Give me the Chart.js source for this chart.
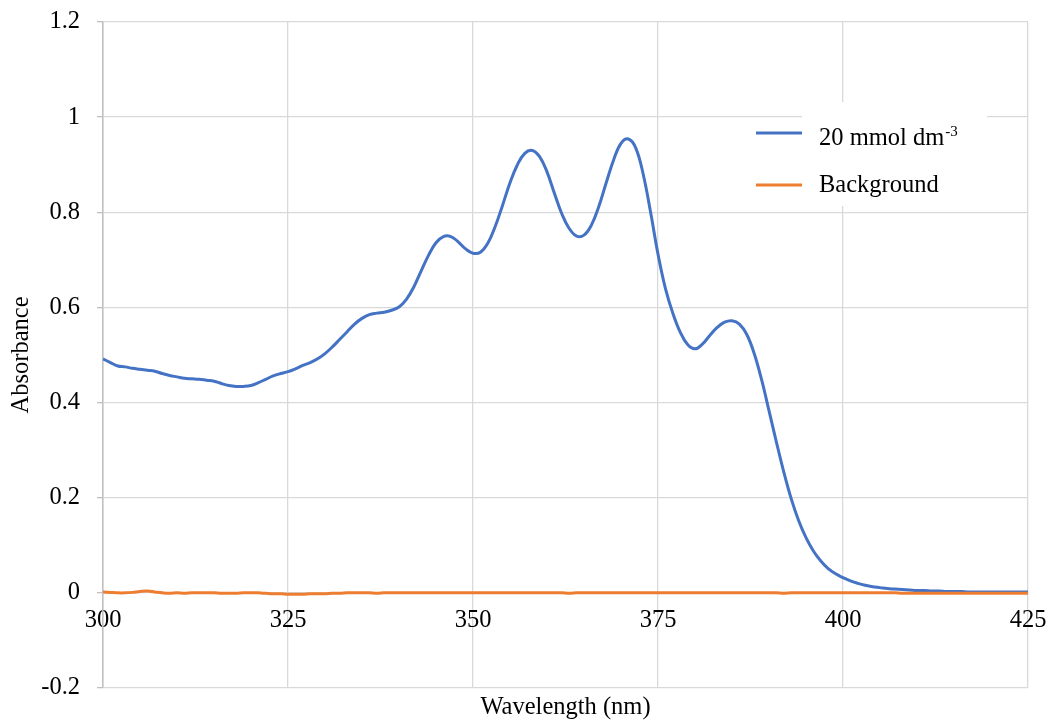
<!DOCTYPE html>
<html>
<head>
<meta charset="utf-8">
<title>Absorbance spectrum</title>
<script src="https://cdn.jsdelivr.net/npm/chart.js@4.4.1/dist/chart.umd.min.js"></script>
<style>
  html, body { margin: 0; padding: 0; background: #ffffff; }
  #wrap { width: 1051px; height: 722px; }
</style>
</head>
<body>
<div id="wrap"><canvas id="spectrum" width="1051" height="722"></canvas></div>
<script>
// Wavelength grid (nm)
const wavelengths = [
  300,301,302,303,304,305,306,307,308,309,310,311,312,313,314,315,316,317,318,319,
  320,321,322,323,324,325,326,327,328,329,330,331,332,333,334,335,336,337,338,339,
  340,341,342,343,344,345,346,347,348,349,350,351,352,353,354,355,356,357,358,359,
  360,361,362,363,364,365,366,367,368,369,370,371,372,373,374,375,376,377,378,379,
  380,381,382,383,384,385,386,387,388,389,390,391,392,393,394,395,396,397,398,399,
  400,401,402,403,404,405,406,407,408,409,410,411,412,413,414,415,416,417,418,419,
  420,421,422,423,424,425
];

// Absorbance of the 20 mmol dm-3 solution
const sample20 = [
  0.492,0.484,0.477,0.475,0.472,0.470,0.468,0.466,0.461,0.457,
  0.454,0.451,0.450,0.449,0.447,0.445,0.440,0.436,0.434,0.434,
  0.436,0.442,0.449,0.456,0.461,0.465,0.471,0.478,0.484,0.492,
  0.503,0.517,0.533,0.549,0.565,0.577,0.585,0.588,0.590,0.594,
  0.601,0.617,0.643,0.677,0.710,0.736,0.749,0.749,0.738,0.723,
  0.714,0.716,0.735,0.770,0.815,0.862,0.900,0.924,0.930,0.917,
  0.885,0.840,0.797,0.766,0.750,0.752,0.773,0.812,0.862,0.910,
  0.945,0.954,0.935,0.880,0.800,0.712,0.640,0.588,0.548,0.522,
  0.513,0.523,0.541,0.558,0.569,0.572,0.565,0.543,0.503,0.448,
  0.383,0.317,0.254,0.198,0.152,0.116,0.088,0.067,0.051,0.040,
  0.032,0.025,0.020,0.016,0.013,0.011,0.009,0.008,0.007,0.006,
  0.005,0.005,0.004,0.004,0.003,0.003,0.003,0.002,0.002,0.002,
  0.002,0.002,0.002,0.002,0.002,0.002
];

// Background (solvent) absorbance
const background = [
  0.002,0.001,0.000,0.000,0.001,0.003,0.004,0.002,0.000,-0.001,
  0.000,-0.001,0.000,0.000,0.000,0.000,-0.001,-0.001,-0.001,0.000,
  0.000,0.000,-0.001,-0.002,-0.002,-0.003,-0.003,-0.003,-0.002,-0.002,
  -0.002,-0.001,-0.001,0.000,0.000,0.000,0.000,-0.001,0.000,0.000,
  0.000,0.000,0.000,0.000,0.000,0.000,0.000,0.000,0.000,0.000,
  0.000,0.000,0.000,0.000,0.000,0.000,0.000,0.000,0.000,0.000,
  0.000,0.000,0.000,-0.001,0.000,0.000,0.000,0.000,0.000,0.000,
  0.000,0.000,0.000,0.000,0.000,0.000,0.000,0.000,0.000,0.000,
  0.000,0.000,0.000,0.000,0.000,0.000,0.000,0.000,0.000,0.000,
  0.000,0.000,-0.001,0.000,0.000,0.000,0.000,0.000,0.000,0.000,
  0.000,0.000,0.000,0.000,0.000,0.000,0.000,0.000,-0.001,-0.001,
  -0.001,-0.001,-0.001,-0.001,-0.001,-0.001,-0.001,-0.001,-0.001,-0.001,
  -0.001,-0.001,-0.001,-0.001,-0.001,-0.001
];

const xTicks = [300, 325, 350, 375, 400, 425];
const yTicks = [-0.2, 0, 0.2, 0.4, 0.6, 0.8, 1.0, 1.2];

const seriesNames = ['20 mmol dm', 'Background'];
const seriesSuperscripts = ['-3', ''];
const seriesColors = ['#4472C4', '#ED7D31'];

const xTitle = 'Wavelength (nm)';
const yTitle = 'Absorbance';

const FONT_FAMILY = "'Liberation Serif', 'Times New Roman', serif";
const FONT_SIZE = 24.5;
const TEXT_COLOR = '#000000';
const GRID_COLOR = '#d9d9d9';
const AXIS_COLOR = '#bfbfbf';

function toPoints(ys) {
  return wavelengths.map((x, i) => ({ x: x, y: ys[i] }));
}

function zeroPadding(scale) {
  scale.paddingLeft = 0;
  scale.paddingRight = 0;
  scale.paddingTop = 0;
  scale.paddingBottom = 0;
}

// Legend drawn inside the plot area on a white panel
const legendPanel = {
  id: 'legendPanel',
  beforeDatasetsDraw(chart) {
    const ctx = chart.ctx;
    ctx.save();
    ctx.fillStyle = '#ffffff';
    ctx.fillRect(802, 102, 185, 104);
    ctx.restore();
  },
  afterDatasetsDraw(chart) {
    const ctx = chart.ctx;
    const rows = [
      { lineY: 133, baseY: 145 },
      { lineY: 185, baseY: 192 }
    ];
    ctx.save();
    rows.forEach((row, i) => {
      ctx.strokeStyle = seriesColors[i];
      ctx.lineWidth = 3;
      ctx.beginPath();
      ctx.moveTo(756, row.lineY);
      ctx.lineTo(802, row.lineY);
      ctx.stroke();

      ctx.fillStyle = TEXT_COLOR;
      ctx.textAlign = 'left';
      ctx.textBaseline = 'alphabetic';
      ctx.font = FONT_SIZE + 'px ' + FONT_FAMILY;
      ctx.fillText(seriesNames[i], 819, row.baseY);
      if (seriesSuperscripts[i]) {
        const w = ctx.measureText(seriesNames[i]).width;
        ctx.font = '15px ' + FONT_FAMILY;
        ctx.fillText(seriesSuperscripts[i], 819 + w + 1, row.baseY - 9);
      }
    });
    ctx.restore();
  }
};

new Chart(document.getElementById('spectrum'), {
  type: 'line',
  data: {
    datasets: [
      {
        label: seriesNames[0] + seriesSuperscripts[0],
        data: toPoints(sample20),
        borderColor: seriesColors[0],
        borderWidth: 3,
        pointRadius: 0,
        tension: 0.4,
        fill: false,
        order: 1
      },
      {
        label: seriesNames[1],
        data: toPoints(background),
        borderColor: seriesColors[1],
        borderWidth: 3,
        pointRadius: 0,
        tension: 0.4,
        fill: false,
        order: 0
      }
    ]
  },
  options: {
    responsive: false,
    animation: false,
    devicePixelRatio: 1,
    layout: { padding: { top: 22, right: 23, left: 0, bottom: 0 } },
    plugins: {
      legend: { display: false },
      tooltip: { enabled: false }
    },
    scales: {
      x: {
        type: 'linear',
        position: 'bottom',
        min: 300,
        max: 425,
        afterBuildTicks: s => { s.ticks = xTicks.map(v => ({ value: v })); },
        afterFit: s => { s.height = 34; zeroPadding(s); },
        ticks: { display: false },
        grid: { color: GRID_COLOR, lineWidth: 1.3, drawTicks: false },
        border: { display: false },
        title: {
          display: true,
          text: xTitle,
          color: TEXT_COLOR,
          font: { family: FONT_FAMILY, size: FONT_SIZE },
          padding: { top: 0, bottom: 0 }
        }
      },
      xLabels: {
        type: 'linear',
        position: { y: 0 },
        min: 300,
        max: 425,
        afterBuildTicks: s => { s.ticks = xTicks.map(v => ({ value: v })); },
        afterFit: s => { zeroPadding(s); },
        ticks: {
          color: TEXT_COLOR,
          font: { family: FONT_FAMILY, size: FONT_SIZE },
          padding: 13,
          maxRotation: 0,
          autoSkip: false,
          callback: v => String(v)
        },
        grid: { display: false, drawTicks: false },
        border: { display: false }
      },
      y: {
        type: 'linear',
        position: 'left',
        min: -0.2,
        max: 1.2,
        afterBuildTicks: s => { s.ticks = yTicks.map(v => ({ value: v })); },
        afterFit: s => { s.width = 103; zeroPadding(s); },
        ticks: {
          color: TEXT_COLOR,
          font: { family: FONT_FAMILY, size: FONT_SIZE },
          padding: 17,
          autoSkip: false,
          callback: v => String(+v.toFixed(1))
        },
        grid: { color: GRID_COLOR, lineWidth: 1.3, tickLength: 6, tickColor: AXIS_COLOR, tickWidth: 1.3 },
        border: { display: true, color: AXIS_COLOR, width: 1.5 },
        title: {
          display: true,
          text: yTitle,
          color: TEXT_COLOR,
          font: { family: FONT_FAMILY, size: FONT_SIZE },
          padding: { top: 7, bottom: 0 }
        }
      }
    }
  },
  plugins: [legendPanel]
});
</script>
</body>
</html>
